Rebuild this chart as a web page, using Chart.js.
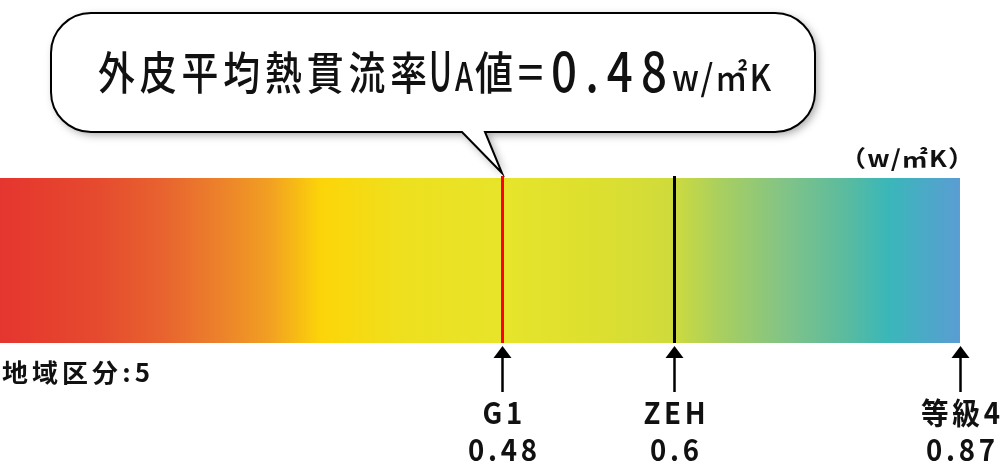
<!DOCTYPE html>
<html>
<head>
<meta charset="utf-8">
<script src="https://cdn.jsdelivr.net/npm/chart.js@4.4.0/dist/chart.umd.min.js"></script>
<style>
  html, body { margin: 0; padding: 0; background: #fff; }
  #wrap { width: 1000px; height: 466px; }
</style>
</head>
<body>
<div id="wrap"><canvas id="uaChart" width="1000" height="466"></canvas></div>
<script>
// data
const regionLabel = ['地域区分:5'];
const scaleRange = [0.25, 0.87];
const markerNames = ['G1', 'ZEH', '等級4'];
const markerValues = [0.48, 0.6, 0.87];
const lineValues = [0.48, 0.6];
const lineColors = ['#ff0000', '#000000'];
const uaValue = 0.48;
const unitText = '（w/㎡K）';

const JP = '"Noto Sans CJK JP", "Noto Sans", sans-serif';

// gradient of the bar, left to right
const gradStops = [
  [0.00, '#e5352f'], [0.10, '#e54a2e'], [0.17, '#e8632f'], [0.23, '#ec822b'],
  [0.28, '#f19f22'], [0.31, '#f7bc14'], [0.335, '#fcd509'], [0.42, '#eee01e'],
  [0.52, '#e7e42a'], [0.63, '#dcdf30'], [0.70, '#cfdb3c'], [0.75, '#a9cf5f'],
  [0.82, '#80c388'], [0.88, '#5bbb9e'], [0.925, '#3ab7b9'], [1.00, '#5a9dd3']
];

function barGradient(ctx) {
  const { chart } = ctx;
  const area = chart.chartArea;
  if (!area) return '#e7e42a';
  const g = chart.ctx.createLinearGradient(area.left, 0, area.right, 0);
  gradStops.forEach(s => g.addColorStop(s[0], s[1]));
  return g;
}

// text squeezed into [x0, x1]
function fitText(c, text, x0, x1, baseline, font, spacing) {
  c.save();
  c.font = font;
  c.letterSpacing = spacing + 'px';
  const w = c.measureText(text).width - spacing;
  c.translate(x0, baseline);
  c.scale((x1 - x0) / w, 1);
  c.textAlign = 'left';
  c.textBaseline = 'alphabetic';
  c.fillText(text, 0, 0);
  c.restore();
}

function centerText(c, text, cx, baseline, font, spacing, sx) {
  c.save();
  c.font = font;
  c.letterSpacing = spacing + 'px';
  const w = c.measureText(text).width - spacing;
  c.translate(cx - w * sx / 2, baseline);
  c.scale(sx, 1);
  c.textAlign = 'left';
  c.fillText(text, 0, 0);
  c.restore();
}

const overlay = {
  id: 'overlay',
  afterDatasetsDraw(chart) {
    const c = chart.ctx;
    const xs = chart.scales.x;
    const area = chart.chartArea;

    // vertical marker lines
    lineValues.forEach((v, i) => {
      const x = Math.round(xs.getPixelForValue(v)) + 0.5;
      c.save();
      c.strokeStyle = lineColors[i];
      c.lineWidth = 3;
      c.beginPath();
      c.moveTo(x, area.top - 2);
      c.lineTo(x, area.bottom);
      c.stroke();
      c.restore();
    });

    // arrows + labels
    markerValues.forEach((v, i) => {
      const x = Math.round(xs.getPixelForValue(v)) + 0.5;
      c.save();
      c.fillStyle = '#000';
      c.beginPath();
      c.moveTo(x, area.bottom + 3);
      c.lineTo(x - 9, area.bottom + 15);
      c.lineTo(x + 9, area.bottom + 15);
      c.closePath();
      c.fill();
      c.strokeStyle = '#000';
      c.lineWidth = 2.5;
      c.beginPath();
      c.moveTo(x, area.bottom + 12);
      c.lineTo(x, area.bottom + 49);
      c.stroke();
      c.restore();
      c.fillStyle = '#111';
      centerText(c, markerNames[i], x, 424, 'bold 30px ' + JP, 4, 0.92);
      centerText(c, String(v), x, 461, 'bold 30px ' + JP, 4, 0.92);
    });

    // region label and unit
    c.fillStyle = '#111';
    fitText(c, regionLabel[0], 2, 150, 382, 'bold 25px ' + JP, 4);
    fitText(c, unitText, 840, 974, 167, 'bold 23px ' + JP, 1);

    // speech bubble
    const x0 = 51, y0 = 13, x1 = 815, y1 = 132, r = 40;
    const tipX = Math.round(xs.getPixelForValue(uaValue)), tipY = area.top - 5;
    c.save();
    c.beginPath();
    c.moveTo(x0 + r, y0);
    c.arcTo(x1, y0, x1, y1, r);
    c.arcTo(x1, y1, x0, y1, r);
    c.lineTo(tipX - 17, y1);
    c.lineTo(tipX, tipY);
    c.lineTo(tipX - 40, y1);
    c.arcTo(x0, y1, x0, y0, r);
    c.arcTo(x0, y0, x1, y0, r);
    c.closePath();
    c.shadowColor = 'rgba(0,0,0,0.35)';
    c.shadowBlur = 8;
    c.shadowOffsetX = 3;
    c.shadowOffsetY = 3;
    c.fillStyle = '#fff';
    c.fill();
    c.shadowColor = 'transparent';
    c.lineWidth = 2;
    c.strokeStyle = '#000';
    c.stroke();
    c.restore();

    c.fillStyle = '#111';
    const big = '500 45px ' + JP;
    fitText(c, '外皮平均熱貫流率', 98, 427, 90, big, 6);
    fitText(c, 'U', 429, 452, 91, '500 54px ' + JP, 0);
    fitText(c, 'A', 455, 473, 91, '500 40px ' + JP, 0);
    fitText(c, '値', 475, 513, 90, big, 0);
    fitText(c, '＝', 515, 546, 90, big, 0);
    fitText(c, String(uaValue), 551, 667, 92, '500 56px ' + JP, 10);
    fitText(c, 'w/㎡K', 672, 771, 91, '500 36px ' + JP, 2);
  }
};

new Chart(document.getElementById('uaChart'), {
  type: 'bar',
  data: {
    labels: regionLabel,
    datasets: [{
      data: [scaleRange],
      backgroundColor: barGradient,
      borderWidth: 0,
      borderSkipped: false,
      barPercentage: 1,
      categoryPercentage: 1
    }]
  },
  options: {
    indexAxis: 'y',
    responsive: false,
    animation: false,
    devicePixelRatio: 1,
    layout: { padding: { left: 0, right: 40, top: 178, bottom: 123 } },
    scales: {
      x: { type: 'logarithmic', min: scaleRange[0], max: scaleRange[1], display: false },
      y: { display: false }
    },
    plugins: { legend: { display: false }, tooltip: { enabled: false } }
  },
  plugins: [overlay]
});
</script>
</body>
</html>
